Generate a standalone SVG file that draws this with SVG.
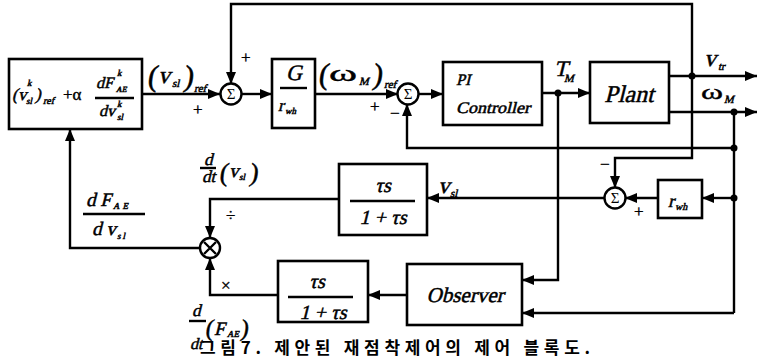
<svg xmlns="http://www.w3.org/2000/svg" width="759" height="364" viewBox="0 0 759 364">
<defs>
<marker id="ah" markerUnits="userSpaceOnUse" markerWidth="12" markerHeight="10" refX="12" refY="5" orient="auto">
<path d="M0,0 L12,5 L0,10 z" fill="#000"/>
</marker>
<style>
.box{fill:#fff;stroke:#000;stroke-width:2.6}
.ln{fill:none;stroke:#000;stroke-width:2.4}
.ar{fill:none;stroke:#000;stroke-width:2.4;marker-end:url(#ah)}
.circ{fill:#fff;stroke:#000;stroke-width:2.4}
.dot{fill:#000}
.it{font-family:"Liberation Serif","Times New Roman",serif;font-style:normal;font-weight:normal;fill:#000;stroke:#000;stroke-width:0.5}
.rm{font-family:"Liberation Serif","Times New Roman",serif;fill:#000;stroke:#000;stroke-width:0.4}
.sig{font-family:"Liberation Serif",serif;font-size:15px;fill:#000;text-anchor:middle}
.cap{font-family:"Noto Sans CJK KR","Noto Sans",sans-serif;font-weight:bold;font-size:17px;fill:#000}
</style>
</defs>
<rect width="759" height="364" fill="#fff"/>

<g id="connectors">
<path class="ar" d="M142,94 H220"/>
<path class="ar" d="M242,94 H272"/>
<path class="ar" d="M315,94 H398"/>
<path class="ar" d="M418,94 H443"/>
<path class="ar" d="M542,93 H590"/>
<path class="ar" d="M669,76 H757"/>
<path class="ar" d="M669,112 H757"/>
<path class="ar" d="M692,76 V4 H231 V84"/>
<path class="ln" d="M734,112 V313"/>
<path class="ar" d="M734,148 H407 V104"/>
<path class="ar" d="M692,76 V158 H615 V188"/>
<path class="ar" d="M734,198 H702"/>
<path class="ar" d="M658,198 H625"/>
<path class="ar" d="M605,198 H427"/>
<path class="ar" d="M339,199 H210 V238"/>
<path class="ar" d="M558,93 V280 H522"/>
<path class="ar" d="M734,313 H522"/>
<path class="ar" d="M407,295 H368"/>
<path class="ar" d="M278,295 H210 V258"/>
<path class="ar" d="M200,248 H70 V129"/>
<circle class="dot" cx="558" cy="93" r="3.5"/>
<circle class="dot" cx="692" cy="76" r="3.5"/>
<circle class="dot" cx="734" cy="112" r="3.5"/>
<circle class="dot" cx="734" cy="148" r="3.5"/>
<circle class="dot" cx="734" cy="198" r="3.5"/>
</g>

<g id="ref-block">
<rect class="box" x="9" y="59" width="133" height="70"/>
<text class="it" transform="translate(12,100) skewX(-14)" font-size="17">(</text>
<text class="it" transform="translate(18,100) skewX(-14)" font-size="17">v</text>
<text class="it" transform="translate(27,86) skewX(-14)" font-size="9">k</text>
<text class="it" transform="translate(26,104) skewX(-14)" font-size="9">sl</text>
<text class="it" transform="translate(35,100) skewX(-14)" font-size="17">)</text>
<text class="it" transform="translate(43,104) skewX(-14)" font-size="10">ref</text>
<text class="rm" x="63" y="100" font-size="17">+α</text>
<text class="it" transform="translate(96,88) skewX(-14)" font-size="16">dF</text>
<text class="it" transform="translate(117,76) skewX(-14)" font-size="9">k</text>
<text class="it" transform="translate(116,92) skewX(-14)" font-size="8">AE</text>
<line class="ln" x1="95" y1="98" x2="134" y2="98" stroke-width="1.6"/>
<text class="it" transform="translate(99,116) skewX(-14)" font-size="16">dv</text>
<text class="it" transform="translate(117,107) skewX(-14)" font-size="9">k</text>
<text class="it" transform="translate(117,120) skewX(-14)" font-size="9">sl</text>
</g>

<g id="sum1">
<circle class="circ" cx="231" cy="94" r="10.5"/>
<text class="sig" x="231" y="99">Σ</text>
</g>

<g id="g-block">
<rect class="box" x="272" y="59" width="43" height="69"/>
<text class="it" transform="translate(294,80) skewX(-14)" font-size="22" text-anchor="middle">G</text>
<line class="ln" x1="280" y1="88" x2="307" y2="88" stroke-width="1.6"/>
<text class="it" transform="translate(278,111) skewX(-14)" font-size="17">r</text>
<text class="it" transform="translate(285,114) skewX(-14)" font-size="9">wh</text>
</g>

<g id="sum2">
<circle class="circ" cx="408" cy="94" r="10.5"/>
<text class="sig" x="408" y="99">Σ</text>
</g>

<g id="pi-controller">
<rect class="box" x="443" y="62" width="99" height="63"/>
<text class="it" transform="translate(456,85) skewX(-14)" font-size="16">PI</text>
<text class="it" transform="translate(456,113) skewX(-14)" font-size="16" textLength="74" lengthAdjust="spacingAndGlyphs">Controller</text>
</g>

<g id="plant">
<rect class="box" x="590" y="62" width="79" height="61"/>
<text class="it" transform="translate(629,102) skewX(-14)" font-size="24" text-anchor="middle">Plant</text>
</g>

<g id="sum3">
<circle class="circ" cx="615" cy="198" r="10.5"/>
<text class="sig" x="615" y="203">Σ</text>
</g>

<g id="rwh-block">
<rect class="box" x="658" y="180" width="44" height="38"/>
<text class="it" transform="translate(668,207) skewX(-14)" font-size="18">r</text>
<text class="it" transform="translate(675,210) skewX(-14)" font-size="10">wh</text>
</g>

<g id="hpf-upper">
<rect class="box" x="339" y="164" width="88" height="71"/>
<text class="it" transform="translate(383,192) skewX(-14)" font-size="20" text-anchor="middle">τs</text>
<line class="ln" x1="350" y1="201" x2="415" y2="201" stroke-width="1.6"/>
<text class="it" transform="translate(383,224) skewX(-14)" font-size="20" text-anchor="middle">1 + τs</text>
</g>

<g id="hpf-lower">
<rect class="box" x="278" y="261" width="90" height="61"/>
<text class="it" transform="translate(317,288) skewX(-14)" font-size="20" text-anchor="middle">τs</text>
<line class="ln" x1="288" y1="297" x2="353" y2="297" stroke-width="1.6"/>
<text class="it" transform="translate(323,319) skewX(-14)" font-size="20" text-anchor="middle">1 + τs</text>
</g>

<g id="observer">
<rect class="box" x="407" y="264" width="115" height="61"/>
<text class="it" transform="translate(465,302) skewX(-14)" font-size="21" text-anchor="middle">Observer</text>
</g>

<g id="multiplier">
<circle class="circ" cx="210" cy="248" r="10"/>
<path class="ln" d="M204,242 L216,254 M216,242 L204,254" stroke-width="2"/>
</g>

<g id="labels">
<text class="it" transform="translate(147,86) skewX(-8)" font-size="30">(</text>
<text class="it" transform="translate(158,83) skewX(-14)" font-size="24">v</text>
<text class="it" transform="translate(172,87) skewX(-14)" font-size="11">sl</text>
<text class="it" transform="translate(183,86) skewX(-8)" font-size="30">)</text>
<text class="it" transform="translate(194,92) skewX(-14)" font-size="11">ref</text>
<text class="rm" x="193" y="115" font-size="17">+</text>
<text class="rm" x="241" y="63" font-size="17">+</text>

<text class="it" transform="translate(318,84) skewX(-8)" font-size="30">(</text>
<text class="rm" x="329" y="81" font-size="24" textLength="28" lengthAdjust="spacingAndGlyphs">ω</text>
<text class="it" transform="translate(359,85) skewX(-14)" font-size="11">M</text>
<text class="it" transform="translate(372,84) skewX(-8)" font-size="30">)</text>
<text class="it" transform="translate(384,88) skewX(-14)" font-size="11">ref</text>
<text class="rm" x="370" y="112" font-size="17">+</text>
<text class="rm" x="390" y="119" font-size="17">−</text>

<text class="it" transform="translate(554,76) skewX(-14)" font-size="22">T</text>
<text class="it" transform="translate(564,82) skewX(-14)" font-size="11">M</text>

<text class="it" transform="translate(704,66) skewX(-14)" font-size="24">v</text>
<text class="it" transform="translate(718,70) skewX(-14)" font-size="11">tr</text>
<text class="rm" x="701" y="99" font-size="22" textLength="22" lengthAdjust="spacingAndGlyphs">ω</text>
<text class="it" transform="translate(724,103) skewX(-14)" font-size="11">M</text>

<text class="rm" x="600" y="170" font-size="17">−</text>
<text class="rm" x="634" y="217" font-size="17">+</text>

<text class="it" transform="translate(438,193) skewX(-14)" font-size="23">v</text>
<text class="it" transform="translate(450,197) skewX(-14)" font-size="11">sl</text>

<text class="it" transform="translate(204,165) skewX(-14)" font-size="17">d</text>
<line class="ln" x1="200" y1="168" x2="216" y2="168" stroke-width="1.6"/>
<text class="it" transform="translate(202,182) skewX(-14)" font-size="17">dt</text>
<text class="it" transform="translate(219,181) skewX(-8)" font-size="26">(</text>
<text class="it" transform="translate(229,177) skewX(-14)" font-size="19">v</text>
<text class="it" transform="translate(239,180) skewX(-14)" font-size="9">sl</text>
<text class="it" transform="translate(249,181) skewX(-8)" font-size="26">)</text>
<text class="rm" x="226" y="221" font-size="17">÷</text>

<text class="it" transform="translate(86,206) skewX(-14)" font-size="19">d F</text>
<text class="it" transform="translate(113,209) skewX(-14)" font-size="9" letter-spacing="3">AE</text>
<line class="ln" x1="83" y1="214" x2="145" y2="214" stroke-width="1.6"/>
<text class="it" transform="translate(92,235) skewX(-14)" font-size="19">d v</text>
<text class="it" transform="translate(117,239) skewX(-14)" font-size="9" letter-spacing="2">sl</text>

<text class="rm" x="221" y="291" font-size="17">×</text>

<text class="it" transform="translate(192,316) skewX(-14)" font-size="17">d</text>
<line class="ln" x1="189" y1="321" x2="206" y2="321" stroke-width="1.6"/>
<text class="it" transform="translate(190,349) skewX(-14)" font-size="16">dt</text>
<text class="it" transform="translate(205,336) skewX(-8)" font-size="24">(</text>
<text class="it" transform="translate(214,335) skewX(-14)" font-size="19">F</text>
<text class="it" transform="translate(227,337) skewX(-14)" font-size="9">AE</text>
<text class="it" transform="translate(240,336) skewX(-8)" font-size="24">)</text>

<text class="cap" x="200" y="354" textLength="390" lengthAdjust="spacing">그림7. 제안된 재점착제어의 제어 블록도.</text>
</g>
</svg>
